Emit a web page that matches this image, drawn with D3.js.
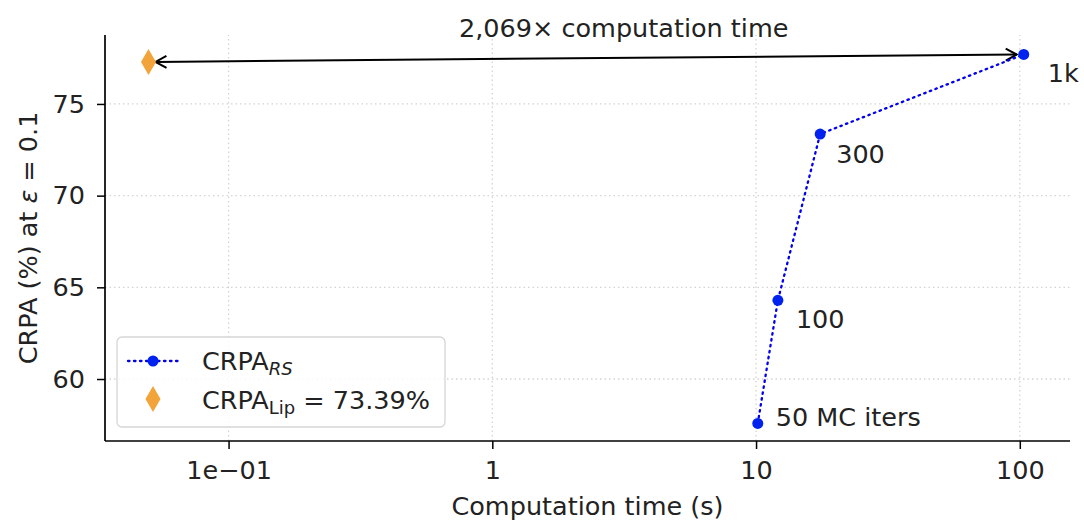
<!DOCTYPE html>
<html>
<head>
<meta charset="utf-8">
<script src="https://cdn.jsdelivr.net/npm/d3@7.9.0/dist/d3.min.js"></script>
<style>
  body { margin: 0; background: #fff; }
  svg { font-family: "DejaVu Sans", sans-serif; }
</style>
</head>
<body>
<svg id="chart"></svg>
<script>
const width = 1084;
const height = 525;

// data
const mcIters = ["50 MC iters", "100", "300", "1k"];
const rsTime = [10.15, 12.1, 17.5, 103.5];
const rsCrpa = [57.58, 64.29, 73.36, 77.70];
const lipTime = [0.0497];
const lipCrpa = [77.29];
const xTicks = [0.1, 1, 10, 100];
const xTickLabels = ["1e\u221201", "1", "10", "100"];
const yTicks = [60, 65, 70, 75];
const speedup = "2,069\u00d7 computation time";

// label offsets in px from each point
const labelOffsets = [[18, 3], [18, 28], [16, 29], [24, 28]];

const margin = {top: 35, right: 14, bottom: 84, left: 105};

const svg = d3.select("#chart").attr("width", width).attr("height", height);

const x = d3.scaleLog().domain([0.034, 155]).range([margin.left, width - margin.right]);
const y = d3.scaleLinear().domain([56.62, 78.76]).range([height - margin.bottom, margin.top]);

const fontSize = 25.5;

// grid
const grid = svg.append("g").attr("stroke", "#d4d4d4").attr("stroke-width", 1.3).attr("stroke-dasharray", "1.5,3");
grid.selectAll("line.gx").data(xTicks).join("line")
    .attr("x1", d => x(d)).attr("x2", d => x(d))
    .attr("y1", y.range()[0]).attr("y2", y.range()[1]);
grid.selectAll("line.gy").data(yTicks).join("line")
    .attr("y1", d => y(d)).attr("y2", d => y(d))
    .attr("x1", x.range()[0]).attr("x2", x.range()[1]);

// axes
const xAxis = d3.axisBottom(x).tickValues(xTicks).tickFormat((d, i) => xTickLabels[i]).tickSizeOuter(0).tickSize(8).tickPadding(12);
const yAxis = d3.axisLeft(y).tickValues(yTicks).tickFormat(d3.format("d")).tickSizeOuter(0).tickSize(8).tickPadding(12);

const gx = svg.append("g").attr("transform", `translate(0,${height - margin.bottom})`).call(xAxis);
const gy = svg.append("g").attr("transform", `translate(${margin.left},0)`).call(yAxis);

[gx, gy].forEach(g => {
  g.select(".domain").attr("stroke", "#000").attr("stroke-width", 1.7);
  g.selectAll(".tick line").attr("stroke", "#000").attr("stroke-width", 1.5);
  g.selectAll(".tick text").attr("fill", "#222").style("font-size", fontSize + "px").style("font-family", "DejaVu Sans");
});
gx.select(".domain").attr("d", `M${x.range()[0]},0H${x.range()[1]}`);
gy.select(".domain").attr("d", `M0,${y.range()[0]}V${y.range()[1]}`);

// axis labels
svg.append("text")
    .attr("x", (x.range()[0] + x.range()[1]) / 2)
    .attr("y", 515)
    .attr("text-anchor", "middle")
    .attr("fill", "#222")
    .style("font-size", fontSize + "px")
    .text("Computation time (s)");

const yl = svg.append("text")
    .attr("transform", `translate(37,${(y.range()[0] + y.range()[1]) / 2}) rotate(-90)`)
    .attr("text-anchor", "middle")
    .attr("fill", "#222")
    .style("font-size", fontSize + "px");
yl.append("tspan").text("CRPA (%) at ");
yl.append("tspan").attr("font-style", "italic").text("\u03b5");
yl.append("tspan").text(" = 0.1");

// arrow markers
const defs = svg.append("defs");
["start", "end"].forEach(k => {
  defs.append("marker")
      .attr("id", "head-" + k)
      .attr("viewBox", "-13 -8 16 16")
      .attr("refX", 0).attr("refY", 0)
      .attr("markerWidth", 16).attr("markerHeight", 16)
      .attr("markerUnits", "userSpaceOnUse")
      .attr("orient", k === "end" ? "auto" : "auto-start-reverse")
      .append("path")
      .attr("d", "M-11,-6L0,0L-11,6")
      .attr("fill", "none").attr("stroke", "#000").attr("stroke-width", 2);
});

// double arrow between Lip point and the 1k point
const ax0 = x(lipTime[0]), ay0 = y(lipCrpa[0]);
const ax1 = x(rsTime[3]), ay1 = y(rsCrpa[3]);
const len = Math.hypot(ax1 - ax0, ay1 - ay0);
const ux = (ax1 - ax0) / len, uy = (ay1 - ay0) / len;
svg.append("line")
    .attr("x1", ax0 + ux * 7).attr("y1", ay0 + uy * 7)
    .attr("x2", ax1 - ux * 7).attr("y2", ay1 - uy * 7)
    .attr("stroke", "#000").attr("stroke-width", 2)
    .attr("marker-start", "url(#head-start)")
    .attr("marker-end", "url(#head-end)");

svg.append("text")
    .attr("x", x(3.15))
    .attr("y", y(78.65))
    .attr("text-anchor", "middle")
    .attr("fill", "#222")
    .style("font-size", fontSize + "px")
    .text(speedup);

// RS line
const rs = rsTime.map((t, i) => ({t, v: rsCrpa[i], label: mcIters[i], off: labelOffsets[i]}));
svg.append("path")
    .datum(rs)
    .attr("fill", "none")
    .attr("stroke", "#0000ee")
    .attr("stroke-width", 2.3)
    .attr("stroke-dasharray", "1.5,4.5")
    .attr("stroke-linecap", "round")
    .attr("d", d3.line().x(d => x(d.t)).y(d => y(d.v)));

svg.selectAll("circle.rs").data(rs).join("circle")
    .attr("cx", d => x(d.t)).attr("cy", d => y(d.v))
    .attr("r", 5.5).attr("fill", "#0022ee");

svg.selectAll("text.lbl").data(rs).join("text")
    .attr("x", d => x(d.t) + d.off[0])
    .attr("y", d => y(d.v) + d.off[1])
    .attr("fill", "#222")
    .style("font-size", fontSize + "px")
    .text(d => d.label);

// Lip diamond
const diamond = (cx, cy, w, h) => `M${cx},${cy - h}L${cx + w},${cy}L${cx},${cy + h}L${cx - w},${cy}Z`;
svg.selectAll("path.lip").data(lipTime).join("path")
    .attr("d", (d, i) => diamond(x(d), y(lipCrpa[i]), 7.5, 13))
    .attr("fill", "#f2a33a");

// legend
const lg = svg.append("g").attr("transform", "translate(117,337)");
lg.append("rect")
    .attr("width", 328).attr("height", 90)
    .attr("rx", 5)
    .attr("fill", "#fff").attr("fill-opacity", 0.85)
    .attr("stroke", "#d6d6d6").attr("stroke-width", 1.3);
lg.append("line")
    .attr("x1", 11).attr("x2", 61).attr("y1", 24).attr("y2", 24)
    .attr("stroke", "#0000ee").attr("stroke-width", 2.3)
    .attr("stroke-dasharray", "1.5,4.5").attr("stroke-linecap", "round");
lg.append("circle").attr("cx", 36).attr("cy", 24).attr("r", 5.5).attr("fill", "#0022ee");
lg.append("path").attr("d", diamond(36, 62, 7.5, 13)).attr("fill", "#f2a33a");

const t1 = lg.append("text").attr("x", 85).attr("y", 33).attr("fill", "#222").style("font-size", fontSize + "px");
t1.append("tspan").text("CRPA");
t1.append("tspan").attr("dy", 5).attr("font-style", "italic").style("font-size", "18px").text("RS");

const t2 = lg.append("text").attr("x", 85).attr("y", 72).attr("fill", "#222").style("font-size", fontSize + "px");
t2.append("tspan").text("CRPA");
t2.append("tspan").attr("dy", 5).style("font-size", "18px").text("Lip");
t2.append("tspan").attr("dy", -5).text(" = 73.39%");
</script>
</body>
</html>
